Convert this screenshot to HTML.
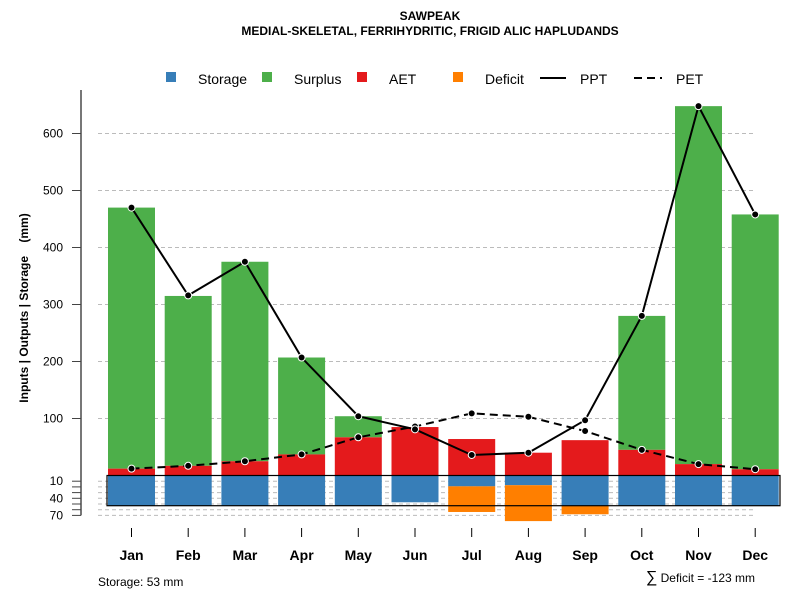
<!DOCTYPE html>
<html><head><meta charset="utf-8"><style>
body{margin:0;background:#fff;}
svg text{font-family:"Liberation Sans",Arial,sans-serif;}
</style></head><body>
<svg id="chart" width="800" height="600" xmlns="http://www.w3.org/2000/svg">
<text x="430" y="20" text-anchor="middle" font-size="12" font-weight="bold">SAWPEAK</text>
<text x="430" y="35" text-anchor="middle" font-size="12" font-weight="bold">MEDIAL-SKELETAL, FERRIHYDRITIC, FRIGID ALIC HAPLUDANDS</text>
<g id="grid"></g><g id="bars"></g><g id="lines"></g><g id="axes"></g>
<g font-size="14">
<rect x="166" y="72" width="10" height="10" fill="#377EB8"/>
<text x="198" y="84">Storage</text>
<rect x="262" y="72" width="10" height="10" fill="#4DAF4A"/>
<text x="294" y="84">Surplus</text>
<rect x="357" y="72" width="10" height="10" fill="#E41A1C"/>
<text x="389" y="84">AET</text>
<rect x="453" y="72" width="10" height="10" fill="#FF7F00"/>
<text x="485" y="84">Deficit</text>
<line x1="540" y1="78" x2="566" y2="78" stroke="#000" stroke-width="2"/>
<text x="580" y="84">PPT</text>
<line x1="634" y1="78" x2="662" y2="78" stroke="#000" stroke-width="2" stroke-dasharray="8,5"/>
<text x="676" y="84">PET</text>
</g>
<text transform="translate(28,308) rotate(-90)" text-anchor="middle" font-size="12" font-weight="bold">Inputs | Outputs | Storage&#160;&#160;&#160;&#160;(mm)</text>
<text x="98" y="586" font-size="12">Storage: 53 mm</text>
<text x="755" y="582" text-anchor="end" font-size="12"><tspan font-size="16">∑</tspan> Deficit = -123 mm</text>
</svg>
<script>
const months=["Jan","Feb","Mar","Apr","May","Jun","Jul","Aug","Sep","Oct","Nov","Dec"];
const ppt=[470,316,375,207,104,81,36,40,97,280,648,458];
const pet=[12,17,25,37,67,86,109,103,78,45,20,11];
const aet=[12,17,25,37,67,85,64,40,62,45,20,11];
const surplus=[458,298,350,170,37,0,0,0,0,235,628,447];
const storage=[53,53,53,53,53,47,19,17,53,53,53,53];
const deficit=[0,0,0,0,0,0,45,63,15,0,0,0];
const upTicks=[100,200,300,400,500,600];
const lowTicks=[10,40,70];
const lowMinor=[10,20,30,40,50,60,70];
const NS="http://www.w3.org/2000/svg";
const y0=475.5,k=0.57;
const yU=v=>y0-v*k, yL=v=>y0+v*k;
const xC=i=>131.5+i*56.7;
const bw=47;
function el(t,a,p){const e=document.createElementNS(NS,t);for(const q in a)e.setAttribute(q,a[q]);document.getElementById(p).appendChild(e);return e;}
upTicks.forEach(v=>{const g=el('line',{x1:98,x2:756,y1:yU(v),y2:yU(v),stroke:'#bbb','stroke-dasharray':'4,3'},'grid');

});
lowMinor.forEach(v=>{const g=el('line',{x1:98,x2:756,y1:yL(v),y2:yL(v),stroke:'#bbb','stroke-dasharray':'4,3'},'grid');

});
months.forEach((m,i)=>{
 const x=xC(i)-bw/2;
 if(surplus[i]>0){const r=el('rect',{x:x,y:yU(aet[i]+surplus[i]),width:bw,height:surplus[i]*k,fill:'#4DAF4A'},'bars');
 
 }
 const a=el('rect',{x:x,y:yU(aet[i]),width:bw,height:aet[i]*k,fill:'#E41A1C'},'bars');
 
 
 const s=el('rect',{x:x,y:y0,width:bw,height:storage[i]*k,fill:'#377EB8'},'bars');
 
 
 if(deficit[i]>0){
  const d=el('rect',{x:x,y:yL(storage[i]),width:bw,height:deficit[i]*k,fill:'#FF7F00'},'bars');
  
  }
});
const box=el('rect',{x:107,y:y0,width:673,height:53*k,fill:'none',stroke:'#000','stroke-width':1.2},'bars');


function series(vals,dash,name){
 const p=el('polyline',{points:vals.map((v,i)=>xC(i)+','+yU(v)).join(' '),fill:'none',stroke:'#000','stroke-width':2,'stroke-dasharray':dash},'lines');
 
 
 vals.forEach((v,i)=>{const c=el('circle',{cx:xC(i),cy:yU(v),r:3.5,fill:'#000',stroke:'#fff','stroke-width':1},'lines');
 
 });
}
series(pet,'8,5','pet');
series(ppt,'none','ppt');
const ax=el('line',{x1:81,x2:81,y1:90,y2:yL(70),stroke:'#777','stroke-width':2},'axes');


upTicks.forEach(v=>{el('line',{x1:72,x2:81,y1:yU(v),y2:yU(v),stroke:'#444'},'axes');
 const t=el('text',{x:63,y:yU(v)+4,'text-anchor':'end','font-size':12},'axes');t.textContent=v;
 
 });
lowMinor.forEach(v=>el('line',{x1:72,x2:81,y1:yL(v),y2:yL(v),stroke:'#444'},'axes'));
lowTicks.forEach(v=>{const t=el('text',{x:63,y:yL(v)+4,'text-anchor':'end','font-size':12},'axes');t.textContent=v;
 
 });
months.forEach((m,i)=>{el('line',{x1:xC(i),x2:xC(i),y1:528,y2:537,stroke:'#000'},'axes');
 const t=el('text',{x:xC(i),y:560,'text-anchor':'middle','font-size':14,'font-weight':'bold'},'axes');t.textContent=m;
 
 });
</script>
</body></html>
